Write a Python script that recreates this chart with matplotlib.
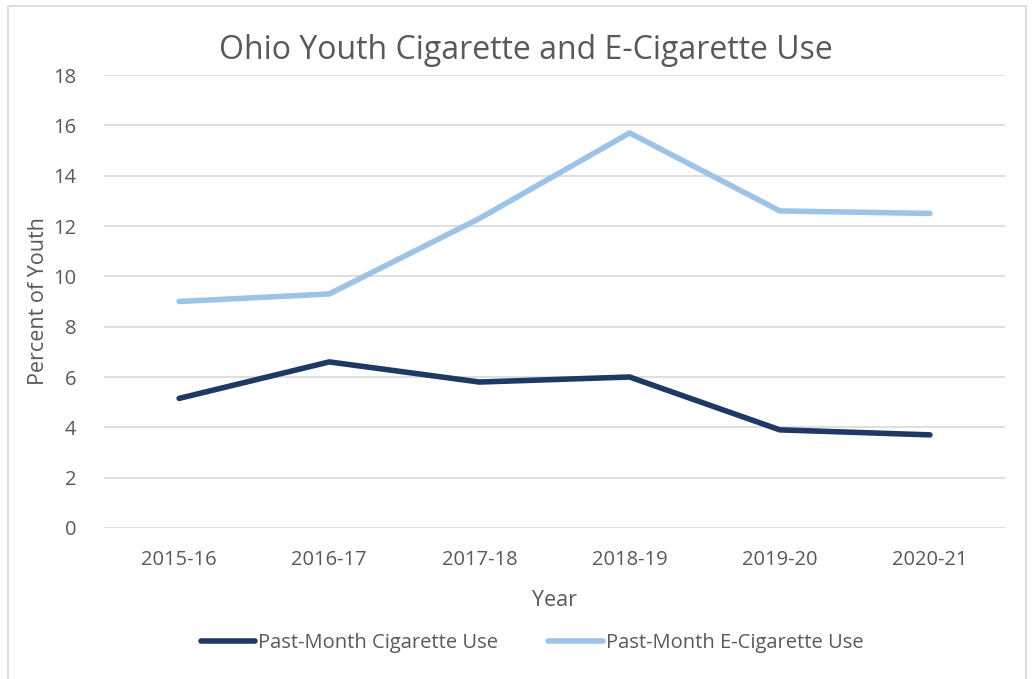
import matplotlib.pyplot as plt
from matplotlib.patches import Rectangle

# データ
years = ["2015-16", "2016-17", "2017-18", "2018-19", "2019-20", "2020-21"]
cig_use = [5.15, 6.6, 5.8, 6.0, 3.9, 3.7]
ecig_use = [9.0, 9.3, 12.3, 15.7, 12.6, 12.5]

text_color = "#595959"
plt.rcParams['font.family'] = ['Open Sans', 'DejaVu Sans']

fig = plt.figure(figsize=(10.34, 6.79), dpi=100)
ax = fig.add_axes([0.1006, 0.2224, 0.8714, 0.6671])

# 外枠
fig.patches.append(Rectangle((8 / 1034, -0.01), 1018 / 1034, 1 - 6 / 679 + 0.01,
                             transform=fig.transFigure, fill=False,
                             edgecolor="#d9d9d9", linewidth=1.2))

x = range(len(years))
ax.plot(x, cig_use, color="#203864", linewidth=4, solid_capstyle="round",
        label="Past-Month Cigarette Use")
ax.plot(x, ecig_use, color="#9dc3e6", linewidth=4, solid_capstyle="round",
        label="Past-Month E-Cigarette Use")

ax.set_xlim(-0.5, len(years) - 0.5)
ax.set_ylim(0, 18)
ax.set_yticks(range(0, 19, 2))
ax.set_xticks(list(x))
ax.set_xticklabels(years)
ax.grid(axis='y', color="#d9d9d9", linewidth=1.2)
ax.set_axisbelow(True)
for s in ax.spines.values():
    s.set_visible(False)
ax.tick_params(length=0, labelsize=14.5, colors=text_color)
ax.tick_params(axis='x', pad=16)
ax.tick_params(axis='y', pad=20)

ax.set_xlabel("Year", fontsize=15.5, color=text_color, labelpad=14)
ax.set_ylabel("Percent of Youth", fontsize=15.5, color=text_color, labelpad=3)
fig.text(0.509, 0.926, "Ohio Youth Cigarette and E-Cigarette Use", ha="center",
         va="center", fontsize=23, color=text_color)

ax.legend(loc="center", bbox_to_anchor=(0.475, -0.255), ncol=2, frameon=False,
          fontsize=14.5, labelcolor=text_color, handlelength=2.7, handletextpad=0.15,
          columnspacing=2.5)

plt.savefig("out.png", dpi=100)
plt.close()
